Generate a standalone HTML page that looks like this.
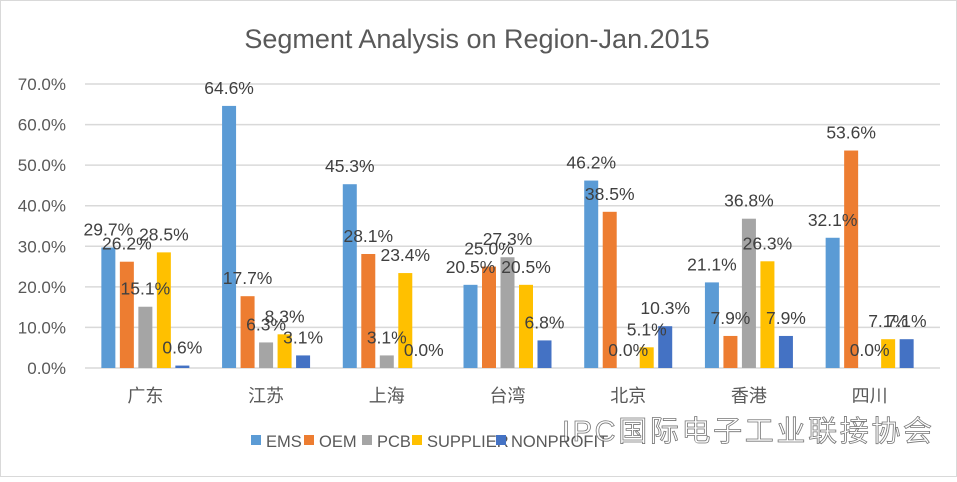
<!DOCTYPE html>
<html><head><meta charset="utf-8"><style>
body{margin:0;background:#fff;}
svg text{font-family:"Liberation Sans","Noto Sans CJK SC",sans-serif;}
</style></head><body>
<svg id="chart" width="957" height="477" xmlns="http://www.w3.org/2000/svg">
<rect x="0.5" y="0.5" width="956" height="476" fill="#fff" stroke="#d9d9d9"/>
<text x="477" y="48" text-anchor="middle" font-size="27" fill="#595959">Segment Analysis on Region-Jan.2015</text>
<g id="grid"></g><g id="bars"></g><g id="labels"></g>
<g id="legend"></g>
<text x="562" y="441" font-size="29" fill="#fff" stroke="#555" stroke-width="0.8" opacity="0.8" textLength="370">IPC国际电子工业联接协会</text>
</svg>
<script>
const categories=["广东","江苏","上海","台湾","北京","香港","四川"];
const seriesNames=["EMS","OEM","PCB","SUPPLIER","NONPROFIT"];
const ems=[29.7,64.6,45.3,20.5,46.2,21.1,32.1];
const oem=[26.2,17.7,28.1,25.0,38.5,7.9,53.6];
const pcb=[15.1,6.3,3.1,27.3,0.0,36.8,0.0];
const supplier=[28.5,8.3,23.4,20.5,5.1,26.3,7.1];
const nonprofit=[0.6,3.1,0.0,6.8,10.3,7.9,7.1];
const yTicks=[0,10,20,30,40,50,60,70];
const colors=["#5b9bd5","#ed7d31","#a5a5a5","#ffc000","#4472c4"];
const series=[ems,oem,pcb,supplier,nonprofit];
const NS="http://www.w3.org/2000/svg";
const x0=85,x1=930,y0=368,yTop=84;
const yScale=v=>y0-(v/70)*(y0-yTop);
const catW=(x1-x0)/categories.length;
const barStep=18.5,barW=14;
const barX=(c,s)=>x0+c*catW+catW/2+(s-2)*barStep-barW/2;
function mk(tag,attrs,parent){const e=document.createElementNS(NS,tag);for(const k in attrs)e.setAttribute(k,attrs[k]);parent.appendChild(e);return e;}
const grid=document.getElementById('grid');
yTicks.forEach(t=>{
  const l=mk('line',{x1:x0,x2:x1+10,y1:yScale(t),y2:yScale(t),stroke:'#d9d9d9','stroke-width':1.5},grid);
  
  
  const tx=mk('text',{x:66,y:yScale(t)+6,'text-anchor':'end','font-size':17,fill:'#595959'},grid);
  tx.textContent=t.toFixed(1)+'%';
  
  
});
categories.forEach((c,i)=>{
  const tx=mk('text',{x:x0+i*catW+catW/2,y:402,'text-anchor':'middle','font-size':18,fill:'#595959'},grid);
  tx.textContent=c;
  
  
});
const bars=document.getElementById('bars'),labels=document.getElementById('labels');
series.forEach((arr,s)=>{
  arr.forEach((v,c)=>{
    const x=barX(c,s),y=yScale(v);
    const r=mk('rect',{x:x,y:y,width:barW,height:Math.max(0,y0-y),fill:colors[s]},bars);
    
    
    const t=mk('text',{x:x+barW/2,y:y-12,'text-anchor':'middle','font-size':17.5,fill:'#404040'},labels);
    t.textContent=v.toFixed(1)+'%';
    
    
  });
});
const legend=document.getElementById('legend');
const lx=[251,304,362,412,496];
seriesNames.forEach((n,i)=>{
  const r=mk('rect',{x:lx[i],y:435,width:10,height:10,fill:colors[i]},legend);
  
  
  const t=mk('text',{x:lx[i]+15,y:447,'font-size':16.5,fill:'#595959'},legend);
  t.textContent=n;
  
  
});
</script>
</body></html>
